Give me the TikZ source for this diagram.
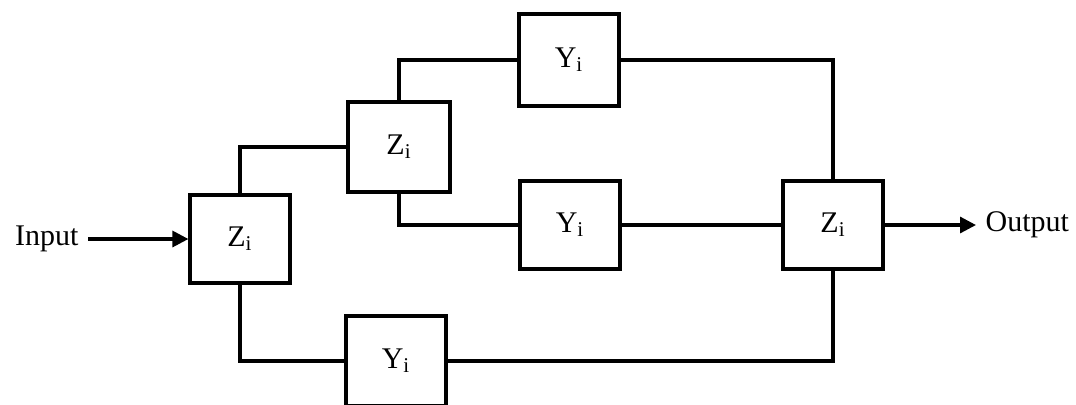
\documentclass[tikz,border=0pt]{standalone}
\usepackage{fontspec}
\setmainfont{Liberation Serif}
\usetikzlibrary{arrows.meta,positioning}
\tikzset{
  net/.style={
    x=0.5pt, y=-0.5pt,
    line width=1.6pt,
    >={Triangle[length=8pt,width=8pt]},
    every node/.style={font=\fontsize{15}{18}\selectfont}
  },
  zbox/.style={                    % series impedance block
    draw, fill=white,
    line width=1.6pt,
    minimum width=50pt,
    minimum height=44pt,
    inner sep=0pt
  },
  ybox/.style={                    % shunt admittance block
    zbox
  },
  wire/.style={line width=1.6pt},
  sig/.style={->, line width=1.6pt}
}

\begin{document}
\begin{tikzpicture}[net]
\useasboundingbox (0,0) rectangle (1076,404);

\node[zbox]                  (z1)   at (240,239) {Z\textsubscript{i}};
\node[zbox, minimum width=51pt, minimum height=45pt] (z2) at (399,147) {Z\textsubscript{i}};
\node[ybox, minimum height=46pt] (ytop) at (569,60)  {Y\textsubscript{i}};
\node[ybox]                  (ymid) at (570,225) {Y\textsubscript{i}};
\node[ybox, minimum height=45pt] (ybot) at (396,361) {Y\textsubscript{i}};
\node[zbox]                  (z3)   at (833,225) {Z\textsubscript{i}};

\node[anchor=east, inner sep=1pt] (in)  at (82,239)  {Input};
\node[anchor=west, inner sep=1pt] (out) at (982,225) {Output};

% signal in and out
\draw[sig] (in.east) ++(6,0) coordinate (ina) (ina) -- (z1.west);
\draw[sig] (z3.east) -- ([xshift=-3pt]out.west);

% branches out of the first block
\draw[wire] (z1.north) |- (z2.west);
\draw[wire] (z1.south) |- (ybot.west);
\draw[wire] (z2.north) |- (ytop.west);
\draw[wire] (z2.south) |- (ymid.west);

% branches into the last block
\draw[wire] (ytop.east) -| (z3.north);
\draw[wire] (ymid.east) -- (z3.west);
\draw[wire] (ybot.east) -| (z3.south);

\end{tikzpicture}
\end{document}
